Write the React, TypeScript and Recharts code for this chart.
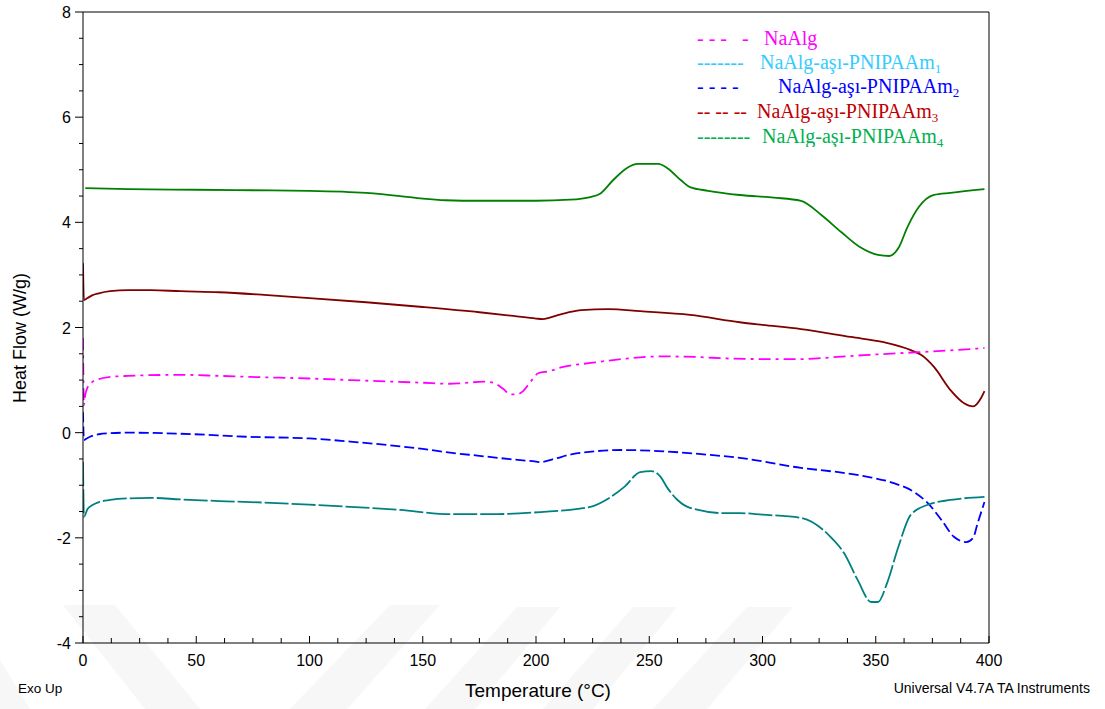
import { Line, LineChart, ReferenceLine, XAxis, YAxis } from "recharts";

// temperatures (°C) and heat flow (W/g)
const T_NAALG = [0, 0.4, 1, 2, 4, 7, 12, 20, 43, 60, 74, 100, 118, 150, 162, 167, 177, 181, 185.6, 188.7, 191.8, 194, 197.6, 201, 206, 211, 225, 240, 255, 270, 285, 300, 317, 333, 347, 369, 385, 398];
const V_NAALG = [1.8, 0.52, 0.72, 0.86, 0.96, 1.02, 1.06, 1.08, 1.1, 1.08, 1.06, 1.03, 1.0, 0.95, 0.93, 0.94, 0.97, 0.95, 0.83, 0.73, 0.73, 0.78, 0.97, 1.13, 1.17, 1.24, 1.33, 1.41, 1.45, 1.44, 1.41, 1.4, 1.4, 1.44, 1.48, 1.53, 1.57, 1.61];

const T_GRAFT1 = [0, 0.4, 2, 4, 7, 12, 20, 30, 43, 60, 74, 100, 118, 140, 162, 180, 202, 224, 232, 239, 246, 251, 255, 258, 262.5, 268, 283, 290, 300, 317, 330, 336, 342, 348, 351, 355, 360, 365.5, 373, 383, 398];
const V_GRAFT1 = [-0.56, -1.6, -1.45, -1.38, -1.32, -1.28, -1.25, -1.24, -1.27, -1.3, -1.32, -1.37, -1.41, -1.47, -1.55, -1.55, -1.51, -1.41, -1.25, -1.03, -0.75, -0.73, -0.84, -1.05, -1.28, -1.43, -1.53, -1.53, -1.56, -1.62, -1.98, -2.29, -2.8, -3.22, -3.22, -2.86, -2.17, -1.56, -1.37, -1.28, -1.22];

const T_GRAFT2 = [0, 0.4, 2, 4, 7, 12, 20, 43, 74, 100, 118, 150, 162, 175, 190, 200, 202, 208, 216, 238, 254, 276, 290, 317, 335, 346.5, 358, 367, 373, 379, 384.5, 390, 393, 395, 398];
const V_GRAFT2 = [0.39, -0.14, -0.1, -0.06, -0.03, -0.01, 0.0, -0.02, -0.08, -0.11, -0.17, -0.31, -0.38, -0.44, -0.51, -0.55, -0.56, -0.5, -0.41, -0.33, -0.35, -0.42, -0.48, -0.67, -0.76, -0.84, -0.96, -1.13, -1.34, -1.66, -1.98, -2.08, -2.0, -1.72, -1.32];

const T_GRAFT3 = [0, 0.4, 2, 4, 7, 12, 20, 30, 43, 60, 80, 100, 125, 150, 175, 190, 200, 203, 210, 217, 220, 232, 246, 268, 290, 300, 317, 339, 353.6, 365.5, 370, 375.7, 383, 389, 393, 396.5, 398];
const V_GRAFT3 = [3.22, 2.52, 2.56, 2.61, 2.65, 2.69, 2.71, 2.71, 2.69, 2.67, 2.62, 2.56, 2.48, 2.39, 2.29, 2.22, 2.17, 2.16, 2.24, 2.31, 2.33, 2.35, 2.31, 2.24, 2.1, 2.05, 1.97, 1.82, 1.72, 1.57, 1.48, 1.25, 0.81, 0.56, 0.5, 0.66, 0.79];

const T_GRAFT4 = [1, 20, 50, 75, 100, 125, 140, 150, 160, 175, 200, 215, 224, 228.5, 234, 240, 245, 254, 258, 264, 268, 276, 290, 305, 317, 326, 334.6, 343, 351, 356, 360, 364, 369, 375.7, 383, 398];
const V_GRAFT4 = [4.65, 4.63, 4.62, 4.61, 4.6, 4.56, 4.5, 4.45, 4.42, 4.41, 4.41, 4.43, 4.48, 4.55, 4.8, 5.03, 5.11, 5.11, 5.03, 4.8, 4.67, 4.6, 4.52, 4.47, 4.41, 4.14, 3.82, 3.53, 3.38, 3.36, 3.51, 3.91, 4.29, 4.52, 4.56, 4.63];

const X_TICKS = [0, 12.5, 25, 37.5, 50, 62.5, 75, 87.5, 100, 112.5, 125, 137.5, 150, 162.5, 175, 187.5, 200, 212.5, 225, 237.5, 250, 262.5, 275, 287.5, 300, 312.5, 325, 337.5, 350, 362.5, 375, 387.5, 400];
const X_LABELS = [0, 50, 100, 150, 200, 250, 300, 350, 400];
const Y_TICKS = [-4, -3.5, -3, -2.5, -2, -1.5, -1, -0.5, 0, 0.5, 1, 1.5, 2, 2.5, 3, 3.5, 4, 4.5, 5, 5.5, 6, 6.5, 7, 7.5, 8];
const Y_LABELS = [-4, -2, 0, 2, 4, 6, 8];

const LEGEND = [
  { dash: "- - -   -", name: "NaAlg", sub: "", color: "#ff00ff", textX: 764, y: 45 },
  { dash: "-------", name: "NaAlg-aşı-PNIPAAm", sub: "1", color: "#33ccff", textX: 760, y: 69 },
  { dash: "- - - -", name: "NaAlg-aşı-PNIPAAm", sub: "2", color: "#0000ff", textX: 778, y: 93 },
  { dash: "-- -- --", name: "NaAlg-aşı-PNIPAAm", sub: "3", color: "#c00000", textX: 757, y: 118 },
  { dash: "--------", name: "NaAlg-aşı-PNIPAAm", sub: "4", color: "#00b050", textX: 762, y: 143 },
];

// faint watermark stripes along the bottom of the page
const WATERMARK = [
  "0,660 0,709 30,709",
  "63,605 115,605 200,709 145,709",
  "390,605 440,605 347,709 290,709",
  "517,607 560,607 475,709 425,709",
  "633,607 677,607 593,709 543,709",
  "747,607 793,607 707,709 653,709",
];

const zip = (t: number[], v: number[]) => t.map((x, i) => ({ t: x, v: v[i] }));

const SANS = "'Liberation Sans', Arial, sans-serif";
const SERIF = "'Liberation Serif', 'Times New Roman', serif";

function YTick({ x, y, payload }: any) {
  const major = Y_LABELS.includes(payload.value);
  return (
    <g>
      <line x1={x - (major ? 8 : 4)} x2={x} y1={y} y2={y} stroke="#000" />
      {major && (
        <text x={x - 12} y={y} dy={6} textAnchor="end" fontSize={16} fontFamily={SANS} fill="#000">
          {payload.value}
        </text>
      )}
    </g>
  );
}

function XTick({ x, y, payload }: any) {
  const major = X_LABELS.includes(payload.value);
  return (
    <g>
      <line x1={x} x2={x} y1={y} y2={y - (major ? 7 : 5)} stroke="#000" />
      {major && (
        <text x={x} y={y + 23} textAnchor="middle" fontSize={16} fontFamily={SANS} fill="#000">
          {payload.value}
        </text>
      )}
    </g>
  );
}

export default function App() {
  return (
    <div style={{ position: "absolute", left: 0, top: 0, width: 1105, height: 709, background: "#fff" }}>
      <svg width={1105} height={709} style={{ position: "absolute", left: 0, top: 0 }}>
        {WATERMARK.map(p => (
          <polygon key={p} points={p} fill="#f7f7f7" />
        ))}
      </svg>
      <LineChart width={1105} height={709} margin={{ top: 12, right: 116, bottom: 0, left: 0 }}>
        <XAxis
          dataKey="t"
          type="number"
          domain={[0, 400]}
          ticks={X_TICKS}
          interval={0}
          height={66}
          tickSize={0}
          tickMargin={0}
          tickLine={false}
          axisLine={{ stroke: "#000" }}
          tick={<XTick />}
          allowDataOverflow
        />
        <YAxis
          type="number"
          domain={[-4, 8]}
          ticks={Y_TICKS}
          interval={0}
          width={83}
          tickSize={0}
          tickMargin={0}
          tickLine={false}
          axisLine={{ stroke: "#000" }}
          tick={<YTick />}
          allowDataOverflow
        />
        <ReferenceLine y={8} stroke="#000" />
        <ReferenceLine x={400} stroke="#000" />
        <Line data={zip(T_GRAFT4, V_GRAFT4)} dataKey="v" name="NaAlg-aşı-PNIPAAm4" type="monotone" stroke="#008000" strokeWidth={1.8} dot={false} isAnimationActive={false} />
        <Line data={zip(T_GRAFT3, V_GRAFT3)} dataKey="v" name="NaAlg-aşı-PNIPAAm3" type="monotone" stroke="#800000" strokeWidth={1.8} dot={false} isAnimationActive={false} />
        <Line data={zip(T_NAALG, V_NAALG)} dataKey="v" name="NaAlg" type="monotone" stroke="#ff00ff" strokeWidth={1.8} strokeDasharray="12 5 3 5" dot={false} isAnimationActive={false} />
        <Line data={zip(T_GRAFT2, V_GRAFT2)} dataKey="v" name="NaAlg-aşı-PNIPAAm2" type="monotone" stroke="#0000ff" strokeWidth={1.8} strokeDasharray="10 4" dot={false} isAnimationActive={false} />
        <Line data={zip(T_GRAFT1, V_GRAFT1)} dataKey="v" name="NaAlg-aşı-PNIPAAm1" type="monotone" stroke="#008080" strokeWidth={1.8} strokeDasharray="24 3" dot={false} isAnimationActive={false} />
      </LineChart>
      <svg width={1105} height={709} style={{ position: "absolute", left: 0, top: 0, pointerEvents: "none" }}>
        <defs>
          <clipPath id="legendClip">
            <rect x={680} y={0} width={300} height={147} />
          </clipPath>
        </defs>
        <g clipPath="url(#legendClip)" fontFamily={SERIF} fontSize={20}>
          {LEGEND.map(row => (
            <g key={row.sub + row.name} fill={row.color}>
              <text x={697} y={row.y} style={{ whiteSpace: "pre" }}>{row.dash}</text>
              <text x={row.textX} y={row.y}>
                {row.name}
                {row.sub && <tspan fontSize={13} dy={4}>{row.sub}</tspan>}
              </text>
            </g>
          ))}
        </g>
        <text x={20} y={338} transform="rotate(-90 20 338)" dy={6} textAnchor="middle" fontSize={18} fontFamily={SANS} fill="#000">
          Heat Flow (W/g)
        </text>
        <text x={538} y={697} textAnchor="middle" fontSize={19} fontFamily={SANS} fill="#000">
          Temperature (°C)
        </text>
        <text x={18} y={693} fontSize={13.5} fontFamily={SANS} fill="#000">Exo Up</text>
        <text x={1090} y={693} textAnchor="end" fontSize={14} fontFamily={SANS} fill="#000">Universal V4.7A TA Instruments</text>
      </svg>
    </div>
  );
}
